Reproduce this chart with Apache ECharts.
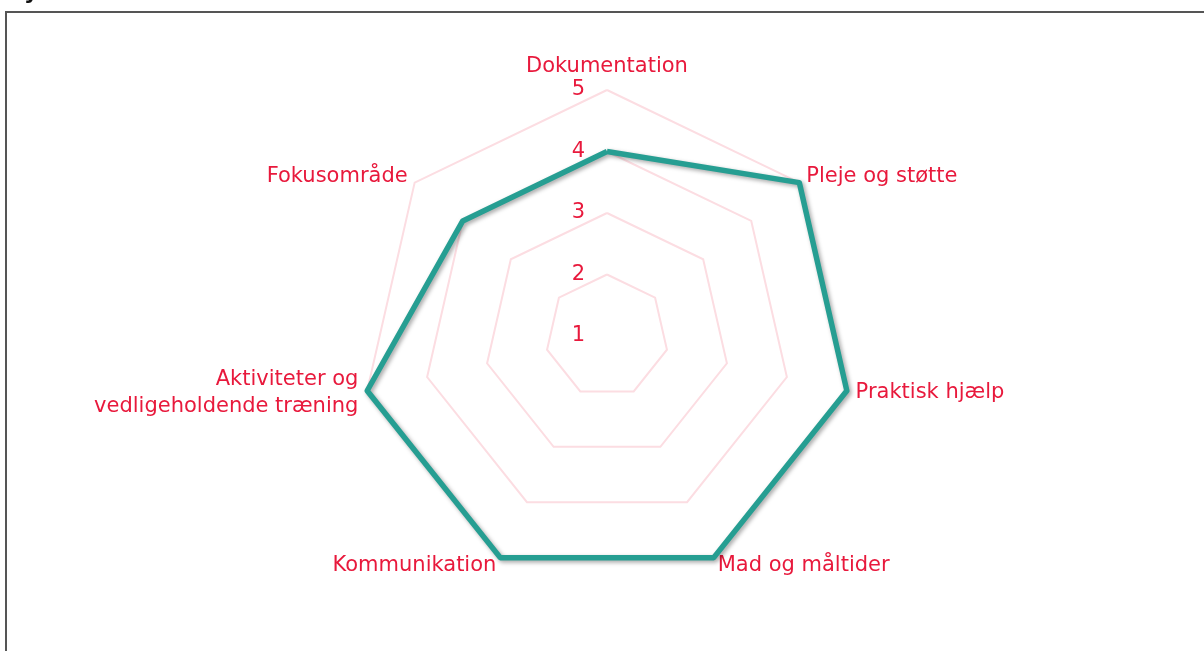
<!DOCTYPE html>
<html>
<head>
<meta charset="utf-8">
<script src="https://cdn.jsdelivr.net/npm/echarts@6/dist/echarts.min.js"></script>
<style>
  html, body { margin: 0; padding: 0; background: #fff; }
  #chart { width: 1204px; height: 651px; }
</style>
</head>
<body>
<div id="chart"></div>
<script>
// indicators listed counterclockwise from the top (ECharts radar order)
const categories = [
    'Dokumentation',
    'Fokusområde',
    'Aktiviteter og\nvedligeholdende træning',
    'Kommunikation',
    'Mad og måltider',
    'Praktisk hjælp',
    'Pleje og støtte',
];
const scores = [4, 4, 5, 5, 5, 5, 5];
const scaleMin = 1;
const scaleMax = 5;

const labelRed = '#e8193c';
const ringPink = '#fcdde2';
const teal = '#269e92';

const chart = echarts.init(document.getElementById('chart'), null, { renderer: 'canvas' });

const option = {
    animation: false,
    textStyle: { fontFamily: 'DejaVu Sans' },
    graphic: [
        {
            type: 'rect',
            shape: { x: 6, y: 12, width: 1400, height: 800 },
            style: { fill: 'none', stroke: '#555', lineWidth: 2 },
            silent: true,
        },
        {
            type: 'text',
            left: 24,
            top: -18,
            style: { text: 'y', font: 'bold 22px DejaVu Sans', fill: '#111' },
            silent: true,
        },
    ],
    radar: {
        center: [607, 336],
        radius: 246,
        startAngle: 90,
        splitNumber: 4,
        shape: 'polygon',
        nameGap: 9,
        axisName: {
            color: labelRed,
            fontSize: 21,
            fontFamily: 'DejaVu Sans',
            lineHeight: 27,
        },
        axisLine: { show: false },
        axisTick: { show: false },
        axisLabel: { show: false },
        splitLine: { lineStyle: { color: ringPink, width: 2 } },
        splitArea: { show: false },
        indicator: categories.map((name, i) => ({
            name: name,
            min: scaleMin,
            max: scaleMax,
            axisLabel: i === 0
                ? { show: true, color: labelRed, fontSize: 21, margin: 22, fontFamily: 'DejaVu Sans' }
                : undefined,
        })),
    },
    series: [
        {
            type: 'radar',
            symbol: 'none',
            lineStyle: {
                color: teal,
                width: 5.5,
                shadowColor: 'rgba(0,0,0,0.35)',
                shadowBlur: 4,
                shadowOffsetX: 2,
                shadowOffsetY: 2,
            },
            data: [{ value: scores, name: 'Score' }],
        },
    ],
};

chart.setOption(option);
</script>
</body>
</html>
